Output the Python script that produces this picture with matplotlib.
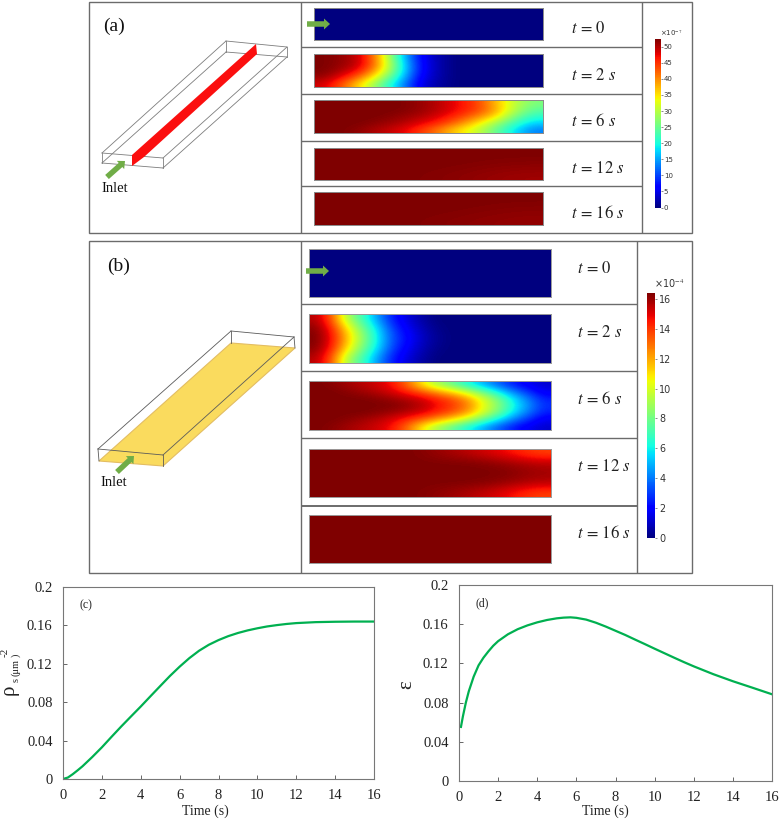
import matplotlib
matplotlib.use('Agg')
import matplotlib.pyplot as plt
from matplotlib.patches import Polygon, Rectangle, FancyArrow
from matplotlib.cm import ScalarMappable
from matplotlib.colors import Normalize

plt.rcParams['font.family'] = ['Liberation Serif', 'DejaVu Serif']
plt.rcParams['mathtext.fontset'] = 'stix'

W, H = 780, 819

# curves
time_c = [0, 0.25, 0.5, 0.75, 1, 1.25, 1.5, 2, 2.5, 3, 3.5, 4, 4.5, 5, 5.5, 6, 6.5, 7, 7.5, 8, 8.5, 9, 9.5, 10, 10.5,
          11, 11.5, 12, 13, 14, 15, 16]
rho_s = [0, 0.0015, 0.005, 0.009, 0.0132, 0.018, 0.0228, 0.033, 0.044, 0.0548, 0.0652, 0.0755, 0.0862, 0.0968, 0.1073,
         0.1170, 0.1259, 0.1336, 0.1398, 0.1447, 0.1488, 0.1521, 0.1548, 0.157, 0.1589, 0.1603, 0.1615, 0.1624,
         0.1634, 0.1638, 0.164, 0.164]
time_d = [0.1, 0.2, 0.35, 0.5, 0.75, 1, 1.25, 1.5, 1.75, 2, 2.5, 3, 3.5, 4, 4.5, 5, 5.35, 5.7, 6, 6.5, 7, 7.5, 8, 8.5, 9,
          9.5, 10, 10.5, 11, 11.5, 12, 12.5, 13, 13.5, 14, 15, 16]
eps = [0.0552, 0.066, 0.080, 0.0915, 0.1065, 0.118, 0.1258, 0.1322, 0.138, 0.1427, 0.1497, 0.1549, 0.1588, 0.1619,
       0.1643, 0.166, 0.1667, 0.167, 0.1665, 0.1647, 0.1615, 0.1576, 0.1533, 0.149, 0.1443, 0.1397, 0.135, 0.1304,
       0.1258, 0.1213, 0.117, 0.113, 0.109, 0.1054, 0.1018, 0.0952, 0.0885]

times_txt = ['$t\\,=\\,0$', '$t\\,=\\,2\\ s$', '$t\\,=\\,6\\ s$', '$t\\,=\\,12\\ s$', '$t\\,=\\,16\\ s$']

# heat maps, value/colour-scale max, rows top to bottom, columns inlet to outlet
a_t0 = [[0, 0], [0, 0]]
a_t2 = [[1, .98, .93, .70, .37, .13, .04, 0, 0, 0, 0, 0],
        [1, .98, .93, .72, .40, .14, .04, 0, 0, 0, 0, 0],
        [1, .96, .88, .68, .40, .14, .04, 0, 0, 0, 0, 0],
        [.98, .90, .78, .58, .36, .12, .04, 0, 0, 0, 0, 0],
        [.93, .82, .66, .48, .30, .10, .03, 0, 0, 0, 0, 0]]
a_t6 = [[1, 1, 1, 1, 1, .98, .95, .90, .85, .72, .58, .50],
        [1, 1, 1, 1, 1, .98, .95, .90, .85, .74, .57, .46],
        [1, 1, 1, 1, .98, .96, .92, .86, .78, .68, .50, .40],
        [1, 1, 1, .98, .96, .92, .87, .79, .68, .55, .42, .33],
        [1, 1, .98, .95, .92, .86, .78, .68, .60, .48, .35, .25]]
a_t12 = [[1, 1, 1, 1], [1, 1, 1, .99], [1, 1, .99, .97]]
a_t16 = [[1, 1, 1, 1], [1, 1, 1, .99], [1, 1, .99, .98]]

b_t0 = [[0, 0], [0, 0]]
b_t2 = [[.95, .82, .56, .43, .28, .15, .08, .03, 0, 0, 0, 0, 0, 0, 0, 0],
        [.99, .88, .68, .50, .35, .19, .11, .05, .01, 0, 0, 0, 0, 0, 0, 0],
        [1, .90, .72, .54, .37, .21, .13, .06, .02, 0, 0, 0, 0, 0, 0, 0],
        [.99, .88, .68, .50, .35, .19, .11, .05, .01, 0, 0, 0, 0, 0, 0, 0],
        [.95, .82, .56, .43, .28, .15, .08, .03, 0, 0, 0, 0, 0, 0, 0, 0]]
b_t6 = [[1, .99, .97, .95, .93, .89, .80, .66, .55, .47, .38, .30, .22, .15, .10, .07],
        [1, 1, .99, .97, .95, .92, .87, .81, .74, .67, .58, .47, .36, .25, .17, .10],
        [1, 1, 1, 1, .99, .97, .95, .92, .87, .82, .74, .61, .49, .35, .24, .15],
        [1, 1, 1, 1, 1, 1, .98, .95, .90, .85, .78, .64, .52, .38, .27, .17],
        [1, 1, 1, 1, .99, .97, .95, .92, .87, .82, .74, .61, .49, .35, .24, .15],
        [1, 1, .99, .97, .95, .92, .87, .81, .74, .67, .58, .47, .36, .25, .17, .10],
        [1, .99, .97, .95, .93, .89, .80, .66, .55, .47, .38, .30, .22, .15, .10, .07]]
b_t12 = [[1, 1, 1, 1, .97, .94, .90, .84],
         [1, 1, 1, 1, 1, 1, .98, .95],
         [1, 1, 1, 1, 1, 1, 1, .97],
         [1, 1, 1, 1, 1, 1, .98, .95],
         [1, 1, 1, 1, .98, .95, .91, .84]]
b_t16 = [[1, 1], [1, 1]]

fields_a = [a_t0, a_t2, a_t6, a_t12, a_t16]
fields_b = [b_t0, b_t2, b_t6, b_t12, b_t16]

# pixel layout of the images (top, bottom)
rows_a = [(8, 40), (54, 87), (100, 133), (148, 180), (192, 225)]
rows_b = [(249, 297), (314, 363), (381, 430), (449, 497), (515, 563)]
label_y_a = [29, 76, 122, 169, 214]
label_y_b = [269, 333, 400, 467, 534]

ticks_a = [0, 5, 10, 15, 20, 25, 30, 35, 40, 45, 50]
ticks_b = [0, 2, 4, 6, 8, 10, 12, 14, 16]


def px_axes(fig, x0, y0, x1, y1, **kw):
    return fig.add_axes([x0 / W, 1 - y1 / H, (x1 - x0) / W, (y1 - y0) / H], **kw)


fig = plt.figure(figsize=(W / 100, H / 100), dpi=100)

bg = px_axes(fig, 0, 0, W, H, zorder=0)
bg.set_xlim(0, W)
bg.set_ylim(H, 0)
bg.axis('off')
top = px_axes(fig, 0, 0, W, H, zorder=3)
top.set_xlim(0, W)
top.set_ylim(H, 0)
top.axis('off')
top.patch.set_alpha(0)

FRAME = '#6b6b6b'


def hline(x0, x1, y, lw=1.0):
    bg.plot([x0, x1], [y, y], color=FRAME, lw=lw, solid_capstyle='butt')


def vline(x, y0, y1, lw=1.0):
    bg.plot([x, x], [y0, y1], color=FRAME, lw=lw, solid_capstyle='butt')


# frames of (a) and (b)
bg.add_patch(Rectangle((88.5, 1.5), 603, 231.5, fill=False, ec=FRAME, lw=1.0))
vline(301, 1.5, 233)
vline(642, 1.5, 233)
for y in [47, 94, 141, 186]:
    hline(301, 642, y)
bg.add_patch(Rectangle((88.5, 240.5), 603.5, 332.5, fill=False, ec=FRAME, lw=1.0))
vline(301, 240.5, 573)
vline(637, 240.5, 573)
for y in [304, 371, 438]:
    hline(301, 637, y)
hline(301, 637, 506, lw=1.4)

# heat maps
for f, (y0, y1), ty, txt in zip(fields_a, rows_a, label_y_a, times_txt):
    ax = px_axes(fig, 314, y0, 543, y1, zorder=1)
    ax.imshow(f, cmap='jet', vmin=0, vmax=1, aspect='auto', interpolation='bicubic')
    ax.set_xticks([])
    ax.set_yticks([])
    for s in ax.spines.values():
        s.set_color('#8a8a8a')
        s.set_linewidth(0.7)
    top.text(571, ty, txt, fontsize=12, va='center', ha='left', color='#222222')
for f, (y0, y1), ty, txt in zip(fields_b, rows_b, label_y_b, times_txt):
    ax = px_axes(fig, 309, y0, 551, y1, zorder=1)
    ax.imshow(f, cmap='jet', vmin=0, vmax=1, aspect='auto', interpolation='bicubic')
    ax.set_xticks([])
    ax.set_yticks([])
    for s in ax.spines.values():
        s.set_color('#9a9a9a')
        s.set_linewidth(0.7)
    top.text(577, ty, txt, fontsize=12, va='center', ha='left', color='#222222')

# colour bars
cax = px_axes(fig, 655, 39, 661, 207.5, zorder=1)
cb = fig.colorbar(ScalarMappable(Normalize(0, 52.4), 'jet'), cax=cax, ticks=ticks_a)
cb.outline.set_visible(False)
cb.ax.tick_params(length=1.5, width=0.4, pad=0.5, labelsize=5, colors='#333333', direction='out')
for t in cb.ax.get_yticklabels():
    t.set_family('DejaVu Sans')
top.text(660, 33, '×10$^{-7}$', fontsize=5, family='DejaVu Sans', va='center', color='#333333')

cax = px_axes(fig, 647, 293, 655, 538, zorder=1)
cb = fig.colorbar(ScalarMappable(Normalize(0, 16.4), 'jet'), cax=cax, ticks=ticks_b)
cb.outline.set_visible(False)
cb.ax.tick_params(length=1.5, width=0.4, pad=1.5, labelsize=6.9, colors='#333333', direction='out')
for t in cb.ax.get_yticklabels():
    t.set_family('DejaVu Sans')
top.text(654, 284, '×10$^{-4}$', fontsize=6.9, family='DejaVu Sans', va='center', color='#333333')


# channel sketches
def wire(pts, color, lw=0.6):
    for p, q in pts:
        bg.plot([p[0], q[0]], [p[1], q[1]], color=color, lw=lw)


ft, fr, br, bl = (102, 153), (163, 158), (287, 47), (226, 41)
flb, frb, brb, blb = (102, 163), (163, 168), (287, 57), (226, 52)
wire([(ft, fr), (fr, br), (br, bl), (bl, ft), (flb, frb), (frb, brb), (brb, blb), (blb, flb),
      (ft, flb), (fr, frb), (br, brb), (bl, blb)], '#7d7d7d')
bg.add_patch(Polygon([(132, 155), (256, 44), (257, 54), (144, 157), (132, 166)], fc='#fb0f0f', ec='none', zorder=3))

ft, fr, br, bl = (98, 449), (163, 455), (294, 337), (231, 331)
flb, frb, brb, blb = (99, 461), (163, 466), (295, 348), (231, 343)
bg.add_patch(Polygon([flb, frb, brb, blb], fc='#fadb5e', ec='#e3bd62', lw=0.8, zorder=1))
wire([(ft, fr), (fr, br), (br, bl), (bl, ft), (ft, flb), (fr, frb), (br, brb), (bl, blb)], '#5a5a5a')

GREEN = '#70ad47'
for x0, y0, x1, y1 in [(107, 177, 125, 161), (117, 472, 134, 456), (307, 24, 330, 24), (306, 271, 329, 271)]:
    top.add_patch(FancyArrow(x0, y0, x1 - x0, y1 - y0, width=5.5, head_width=11, head_length=6,
                             length_includes_head=True, color=GREEN, lw=0))

top.text(101, 188, 'Inlet', fontsize=10.5, va='center', color='#111111')
top.text(100, 482, 'Inlet', fontsize=10.5, va='center', color='#111111')
top.text(103, 26, '(a)', fontsize=14, va='center', color='#111111')
top.text(107, 266, '(b)', fontsize=14, va='center', color='#111111')

# line plots
ax_c = px_axes(fig, 63, 587, 374, 779, zorder=1)
ax_d = px_axes(fig, 459, 585, 772, 781, zorder=1)
for ax in [ax_c, ax_d]:
    ax.set_xlim(0, 16)
    ax.set_ylim(0, 0.2)
    ax.set_xticks(range(0, 17, 2))
    ax.set_xticklabels([str(v) for v in range(0, 17, 2)])
    ax.set_yticks([0, 0.04, 0.08, 0.12, 0.16, 0.2])
    ax.set_yticklabels(['0', '0.04', '0.08', '0.12', '0.16', '0.2'])
    ax.tick_params(direction='in', length=3, width=0.7, color='#666666', labelsize=10.5, labelcolor='#222222',
                   pad=7.5)
    for s in ax.spines.values():
        s.set_color('#777777')
        s.set_linewidth(0.8)
ax_c.plot(time_c, rho_s, color='#00b050', lw=1.6)
ax_d.plot(time_d, eps, color='#00b050', lw=1.6)
top.text(205, 811, 'Time (s)', fontsize=10, ha='center', va='center', color='#222222')
top.text(605, 811, 'Time (s)', fontsize=10, ha='center', va='center', color='#222222')
top.text(80, 605, '(c)', fontsize=8.5, va='center', color='#222222')
top.text(476, 603, '(d)', fontsize=8.5, va='center', color='#222222')

# y label of (c), the pieces sit at different heights and sizes
for x, y, s, size in [(9, 690, 'ρ', 15), (16, 680, 's', 7.5), (16, 667, '(μm', 7.5), (5, 652, '-2', 8), (16, 655, ')', 7.5)]:
    top.text(x, y, s, fontsize=size, rotation=90, ha='center', va='center', color='#222222')
top.text(407, 685, 'ε', fontsize=15, rotation=90, ha='center', va='center', color='#222222')

plt.savefig('out.png', dpi=100)
